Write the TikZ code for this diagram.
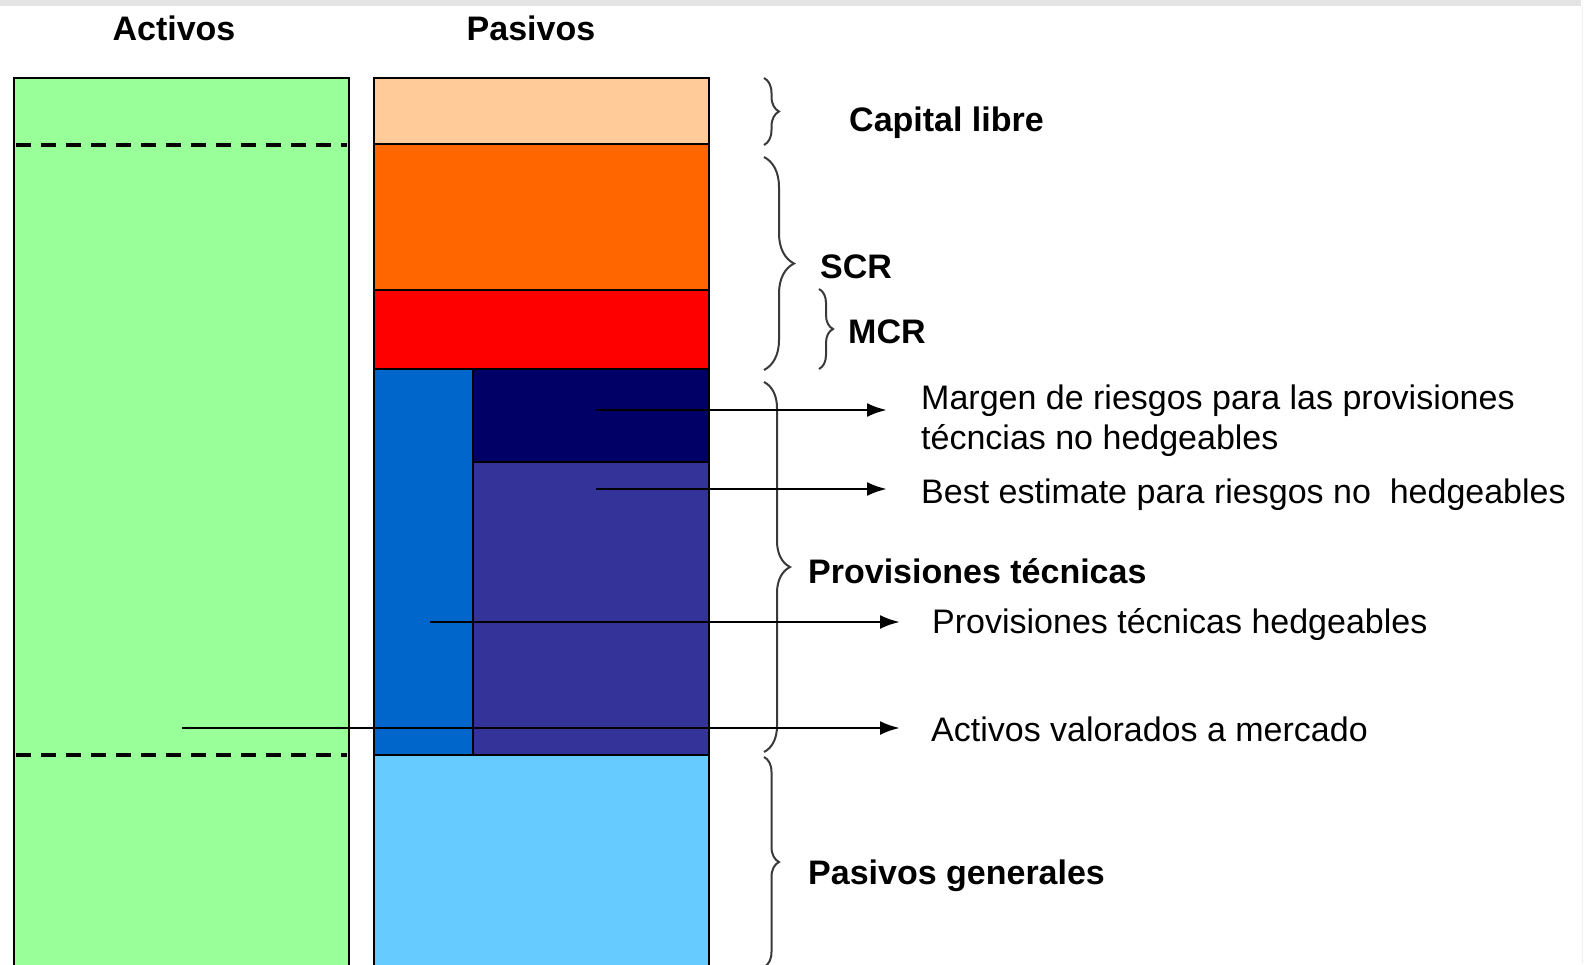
\documentclass[tikz,border=0pt]{standalone}
\usepackage{fontspec}
\setmainfont{Liberation Sans}
\usetikzlibrary{arrows.meta,decorations.pathreplacing}
\definecolor{cgreen}{HTML}{99FF99}
\definecolor{cpeach}{HTML}{FFCC99}
\definecolor{corange}{HTML}{FF6600}
\definecolor{cred}{HTML}{FF0000}
\definecolor{cblue}{HTML}{0066CC}
\definecolor{cnavy}{HTML}{000066}
\definecolor{cpurple}{HTML}{333399}
\definecolor{clight}{HTML}{66CCFF}
\definecolor{cband}{HTML}{E4E4E4}
\definecolor{cbrace}{HTML}{3A3A3A}
\tikzset{
  blk/.style={draw=black, line width=2pt},
  dashsep/.style={line width=4pt, dash pattern=on 15pt off 10pt},
  arr/.style={line width=2.8pt, -{Latex[length=20pt,width=14pt]}},
  br/.style={draw=cbrace, line width=2pt, decorate},
  hd/.style={font=\fontsize{34}{40}\selectfont\bfseries, inner sep=0pt},
  lbl/.style={font=\fontsize{34}{40}\selectfont, inner sep=0pt, anchor=west, align=left},
  blbl/.style={font=\fontsize{34}{40}\selectfont\bfseries, inner sep=0pt, anchor=west},
}
\begin{document}
\begin{tikzpicture}[x=1pt,y=-1pt]
\useasboundingbox (0,0) rectangle (1587,964);
\begin{scope}
\clip (0,0) rectangle (1587,964);
% top band
\fill[cband] (0,0) rectangle (1581,6);
\draw[cband!60, line width=1pt] (1582,6) -- (1582,964);
% Activos column
\filldraw[blk, fill=cgreen] (14,78) rectangle (349,990);
\draw[dashsep] (16,145) -- (347,145);
\draw[dashsep] (16,755) -- (347,755);
% Pasivos column
\filldraw[blk, fill=cpeach] (374,78) rectangle (709,144);
\filldraw[blk, fill=corange] (374,144) rectangle (709,290);
\filldraw[blk, fill=cred] (374,290) rectangle (709,369);
\filldraw[blk, fill=cblue] (374,369) rectangle (473,755);
\filldraw[blk, fill=cnavy] (473,369) rectangle (709,462);
\filldraw[blk, fill=cpurple] (473,462) rectangle (709,755);
\filldraw[blk, fill=clight] (374,755) rectangle (709,990);
\end{scope}
% headers
\node[hd] (hact) at (174,28) {Activos};
\node[hd] (hpas) at (531,28) {Pasivos};
% braces
\draw[br, decoration={brace,amplitude=15pt}] (764,78) -- (764,145);
\draw[br, decoration={brace,amplitude=30pt}] (764,157) -- (764,370);
\draw[br, decoration={brace,amplitude=14pt}] (819,289) -- (819,369);
\draw[br, decoration={brace,amplitude=26pt}] (764,382) -- (764,752);
\draw[br, decoration={brace,amplitude=15pt}] (764,757) -- (764,967);
% bold labels
\node[blbl] (cap) at (849,123) {Capital libre};
\node[blbl] (scr) at (820,267) {SCR};
\node[blbl] (mcr) at (848,332) {MCR};
\node[blbl] (prov) at (808,571) {Provisiones técnicas};
\node[blbl] (pgen) at (808,876) {Pasivos generales};
% regular labels
\node[lbl] (marg) at (921,421) {Margen de riesgos para las provisiones\\técncias no hedgeables};
\node[lbl] (best) at (921,495) {Best estimate para riesgos no \ hedgeables};
\node[lbl] (phed) at (932,625) {Provisiones técnicas hedgeables};
\node[lbl] (aval) at (931,729) {Activos valorados a mercado};
% arrow start/end points
\coordinate (s1) at (596,410);
\coordinate (e1) at (887,410);
\coordinate (s2) at (596,489);
\coordinate (e2) at (887,489);
\coordinate (s3) at (430,622);
\coordinate (e3) at (900,622);
\coordinate (s4) at (182,728);
\coordinate (e4) at (900,728);
\draw[arr] (s1) -- (e1);
\draw[arr] (s2) -- (e2);
\draw[arr] (s3) -- (e3);
\draw[arr] (s4) -- (e4);
\end{tikzpicture}
\end{document}
